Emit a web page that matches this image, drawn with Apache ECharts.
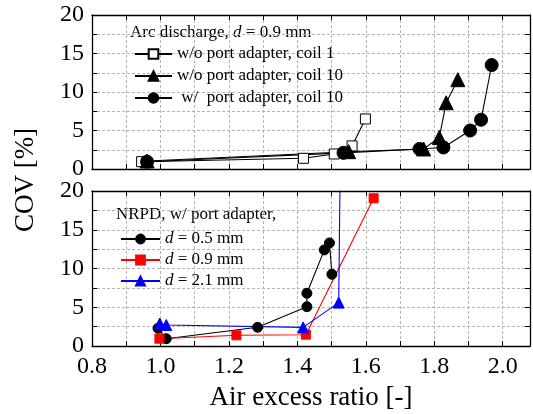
<!DOCTYPE html>
<html>
<head>
<meta charset="utf-8">
<script src="https://cdn.jsdelivr.net/npm/echarts@6/dist/echarts.min.js"></script>
<style>
  html, body { margin: 0; padding: 0; background: #fff; }
  #chart { width: 533px; height: 414px; }
</style>
</head>
<body>
<div id="chart"></div>
<script>
// Arc discharge, d = 0.9 mm
const arcCoil1X = [0.945, 1.418, 1.508, 1.560, 1.599];
const arcCoil1Y = [0.95, 1.39, 1.95, 3.0, 6.5];
const arcCoil10X = [0.961, 1.550, 1.769, 1.815, 1.835, 1.869];
const arcCoil10Y = [1.04, 2.25, 2.6, 4.1, 8.6, 11.6];
const arcAdapterX = [0.961, 1.535, 1.757, 1.827, 1.905, 1.937, 1.968];
const arcAdapterY = [0.95, 2.1, 2.6, 2.8, 5.0, 6.4, 13.5];

// NRPD, w/ port adapter
const nrpd05X = [0.993, 1.017, 1.284, 1.428, 1.428, 1.479, 1.494, 1.501];
const nrpd05Y = [2.28, 0.94, 2.41, 5.07, 6.8, 12.4, 13.3, 9.25];
const nrpd09X = [0.997, 1.222, 1.425, 1.623];
const nrpd09Y = [0.94, 1.38, 1.46, 19.06];
const nrpd21X = [0.998, 1.017, 1.417, 1.521, 1.527];
const nrpd21Y = [2.9, 2.7, 2.4, 5.6, 30];

const xTicks = ['0.8', '1.0', '1.2', '1.4', '1.6', '1.8', '2.0'];
const yTicks = ['0', '5', '10', '15', '20'];

const pairs = (xs, ys) => xs.map((x, i) => [x, ys[i]]);
const FONT = 'Liberation Serif';
const GRID_LINE = { show: true, lineStyle: { color: '#b5b5b5', type: [3, 2], width: 1 } };
const AXIS_LINE = { show: true, onZero: false, lineStyle: { color: '#000', width: 1.3 } };
const TICK = { show: true, inside: true, length: 5, lineStyle: { color: '#000', width: 1 } };

function xAxes(gridIndex, withLabels) {
  const base = {
    type: 'value', gridIndex, min: 0.8, max: 2.08, interval: 0.1,
    axisLine: AXIS_LINE, axisTick: TICK
  };
  return [
    Object.assign({}, base, {
      position: 'bottom', splitLine: GRID_LINE,
      axisLabel: withLabels ? {
        show: true, showMaxLabel: false, fontFamily: FONT, fontSize: 24, color: '#000', margin: 9,
        formatter: v => xTicks.includes(v.toFixed(1)) && Math.round(v * 10) % 2 === 0 ? v.toFixed(1) : ''
      } : { show: false },
      name: withLabels ? 'Air excess ratio [-]' : '',
      nameLocation: 'middle', nameGap: 38,
      nameTextStyle: { fontFamily: FONT, fontSize: 27, color: '#000' }
    }),
    Object.assign({}, base, { position: 'top', splitLine: { show: false }, axisLabel: { show: false } })
  ];
}

function yAxes(gridIndex) {
  const base = {
    type: 'value', gridIndex, min: 0, max: 20, interval: 2.5,
    axisLine: AXIS_LINE, axisTick: TICK
  };
  return [
    Object.assign({}, base, {
      position: 'left', splitLine: GRID_LINE,
      axisLabel: {
        show: true, fontFamily: FONT, fontSize: 24, color: '#000', margin: 8,
        formatter: v => yTicks.includes(String(v)) ? String(v) : ''
      }
    }),
    Object.assign({}, base, { position: 'right', splitLine: { show: false }, axisLabel: { show: false } })
  ];
}

function lineSeries(name, xi, yi, data, color, symbol, size, fill) {
  return {
    type: 'line', name, xAxisIndex: xi, yAxisIndex: yi, data,
    symbol, symbolSize: size, showAllSymbol: true, clip: true,
    lineStyle: { color, width: 1.1 },
    itemStyle: { color: fill, borderColor: color, borderWidth: 1 },
    emphasis: { disabled: true }, animation: false, z: 3
  };
}

const rich = {
  i: { fontFamily: FONT, fontStyle: 'italic', fontSize: 17, color: '#000' }
};

const chart = echarts.init(document.getElementById('chart'), null, { renderer: 'canvas' });
chart.setOption({
  animation: false,
  backgroundColor: '#fff',
  textStyle: { fontFamily: FONT, color: '#000' },
  grid: [
    { left: 92, top: 15, width: 438, height: 154, containLabel: false, outerBoundsMode: 'none' },
    { left: 92, top: 191, width: 438, height: 155, containLabel: false, outerBoundsMode: 'none' }
  ],
  xAxis: [...xAxes(0, false), ...xAxes(1, true)],
  yAxis: [...yAxes(0), ...yAxes(1)],
  graphic: [
    {
      type: 'text', left: 130, top: 24,
      style: { text: 'Arc discharge, {i|d} = 0.9 mm', font: `17px ${FONT}`, fill: '#000', rich }
    },
    {
      type: 'text', left: 116, top: 206,
      style: { text: 'NRPD, w/ port adapter,', font: `17px ${FONT}`, fill: '#000' }
    },
    {
      type: 'text', x: 26, y: 180, rotation: Math.PI / 2,
      style: { text: 'COV [%]', font: `27px ${FONT}`, fill: '#000', align: 'center', verticalAlign: 'middle' }
    }
  ],
  legend: [
    {
      orient: 'vertical', left: 129, top: 39, itemWidth: 37, itemHeight: 12, itemGap: 2,
      data: ['w/o port adapter, coil 1', 'w/o port adapter, coil 10', ' w/  port adapter, coil 10'],
      textStyle: { fontFamily: FONT, fontSize: 17, color: '#000', lineHeight: 20 },
      selectedMode: false
    },
    {
      orient: 'vertical', left: 115, top: 224, itemWidth: 39, itemHeight: 11, itemGap: 1,
      data: ['d05', 'd09', 'd21'],
      formatter: n => ({ d05: '{i|d} = 0.5 mm', d09: '{i|d} = 0.9 mm', d21: '{i|d} = 2.1 mm' })[n],
      textStyle: { fontFamily: FONT, fontSize: 17, color: '#000', lineHeight: 20, rich },
      selectedMode: false
    }
  ],
  series: [
    lineSeries('w/o port adapter, coil 1', 0, 0, pairs(arcCoil1X, arcCoil1Y), '#000', 'rect', 10, '#fff'),
    lineSeries('w/o port adapter, coil 10', 0, 0, pairs(arcCoil10X, arcCoil10Y), '#000', 'triangle', 14, '#000'),
    lineSeries(' w/  port adapter, coil 10', 0, 0, pairs(arcAdapterX, arcAdapterY), '#000', 'circle', 13, '#000'),
    lineSeries('d05', 2, 2, pairs(nrpd05X, nrpd05Y), '#000', 'circle', 10, '#000'),
    lineSeries('d09', 2, 2, pairs(nrpd09X, nrpd09Y), '#ff0000', 'rect', 9, '#ff0000'),
    lineSeries('d21', 2, 2, pairs(nrpd21X, nrpd21Y), '#0000ff', 'triangle', 11, '#0000ff')
  ]
});
</script>
</body>
</html>
